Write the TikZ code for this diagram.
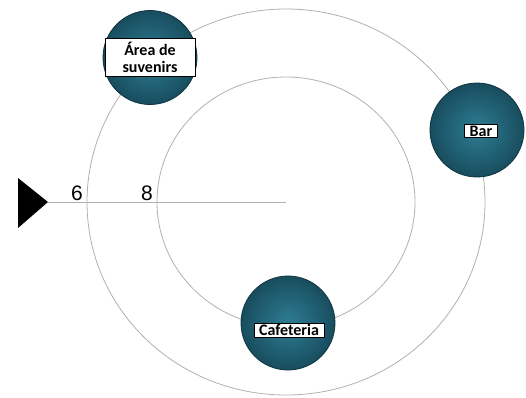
\documentclass[tikz,border=0pt]{standalone}
\usepackage{fontspec}
\setmainfont{Liberation Sans}
\newfontfamily\lblfont{Carlito}
\definecolor{tealin}{HTML}{2E7D94}
\definecolor{tealout}{HTML}{184D5E}
\definecolor{tealedge}{HTML}{0F3340}
\definecolor{ringgray}{HTML}{B0B0B0}
\begin{document}
\begin{tikzpicture}[x=1pt,y=-1pt,
  ring/.style={draw=ringgray, line width=0.8pt},
  station/.style={circle, minimum size=94pt, inner sep=0pt, draw=tealedge, line width=0.8pt, inner color=tealin, outer color=tealout},
  tag/.style={draw=black, fill=white, line width=0.6pt, font=\lblfont\bfseries\fontsize{16}{17}\selectfont, inner xsep=5pt, inner ysep=1.5pt, align=center},
  num/.style={font=\fontsize{21}{21}\selectfont, inner sep=0pt}]
\useasboundingbox (0,0) rectangle (526,397);
\coordinate (c) at (286,202);
\coordinate (s) at (48,202);
\draw[ring] (c) ellipse [x radius=199, y radius=193];
\draw[ring] (c) ellipse [x radius=129, y radius=125];
\draw[ring] (s) -- (c);
\fill[black] (18,178) -- (s) -- (18,228) -- cycle;
\node[num] (n6) at (77,193) {6};
\node[num] (n8) at (147,193) {8};
\node[station] (area) at (150,57.5) {};
\node[station] (bar) at (477,130) {};
\node[station] (cafe) at (288,323) {};
\node[tag, minimum width=90pt, minimum height=38pt] (tarea) at (150,57) {Área de\\suvenirs};
\node[tag] (tbar) at (481,131) {Bar};
\node[tag] (tcafe) at (289,330) {Cafeteria};
\end{tikzpicture}
\end{document}
